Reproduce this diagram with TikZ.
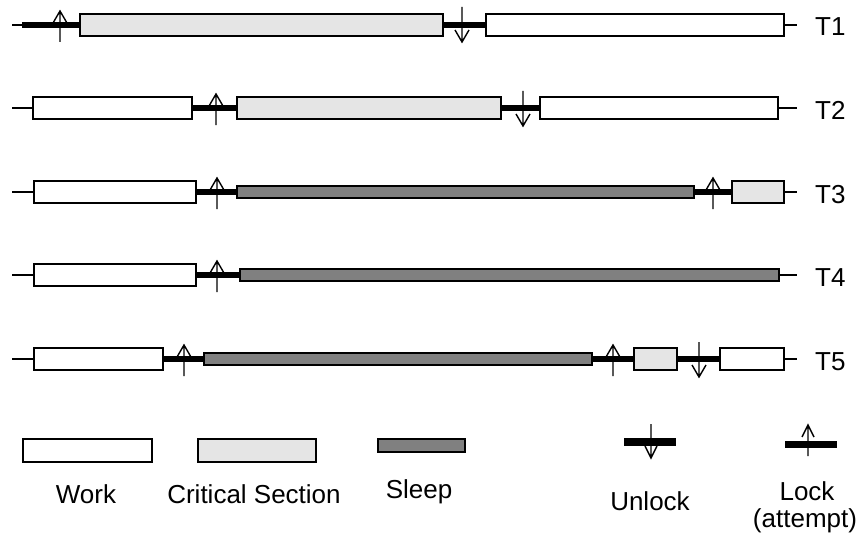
\documentclass[tikz,border=0pt]{standalone}
\usepackage{fontspec}
\setmainfont{Liberation Sans}
\usepackage{tikz}

\begin{document}
\begin{tikzpicture}[x=1pt,y=-1pt,
  work/.style={draw,fill=white,line width=1.4pt},
  crit/.style={draw,fill=gray!20,line width=1.4pt},
  sleep/.style={draw,fill=gray,line width=1.4pt},
  thin/.style={line width=2pt},
  held/.style={line width=5.5pt},
  bar/.style={line width=7.5pt},
  arr/.style={line width=1.4pt},
  lbl/.style={inner sep=0pt,font=\fontsize{26}{31}\selectfont}]
\useasboundingbox (0,0) rectangle (860,535);
\draw [thin] (12,25) -- (797,25);
\draw [held] (22,25) -- (80,25);
\draw [held] (443,25) -- (486,25);
\draw [crit] (80,14) rectangle (443,36);
\draw [work] (486,14) rectangle (784,36);
\draw [arr] (60,42) -- ++(0,-31) ++(-7,12) -- ++(7,-12) -- ++(7,12);
\draw [arr] (462,7) -- ++(0,35) ++(-7,-12) -- ++(7,12) -- ++(7,-12);
\node [lbl,anchor=base west] (t1) at (815,36) {T1};
\draw [thin] (12,108) -- (797,108);
\draw [held] (192,108) -- (237,108);
\draw [held] (501,108) -- (540,108);
\draw [work] (33,97) rectangle (192,119);
\draw [crit] (237,97) rectangle (501,119);
\draw [work] (540,97) rectangle (778,119);
\draw [arr] (216,125) -- ++(0,-31) ++(-7,12) -- ++(7,-12) -- ++(7,12);
\draw [arr] (523,91) -- ++(0,35) ++(-7,-12) -- ++(7,12) -- ++(7,-12);
\node [lbl,anchor=base west] (t2) at (815,119) {T2};
\draw [thin] (12,192) -- (797,192);
\draw [held] (196,192) -- (237,192);
\draw [held] (694,192) -- (732,192);
\draw [work] (34,181) rectangle (196,203);
\draw [sleep] (237,186) rectangle (694,198);
\draw [crit] (732,181) rectangle (784,203);
\draw [arr] (217,209) -- ++(0,-31) ++(-7,12) -- ++(7,-12) -- ++(7,12);
\draw [arr] (713,209) -- ++(0,-31) ++(-7,12) -- ++(7,-12) -- ++(7,12);
\node [lbl,anchor=base west] (t3) at (815,203) {T3};
\draw [thin] (12,275) -- (797,275);
\draw [held] (196,275) -- (240,275);
\draw [work] (34,264) rectangle (196,286);
\draw [sleep] (240,269) rectangle (779,281);
\draw [arr] (217,292) -- ++(0,-31) ++(-7,12) -- ++(7,-12) -- ++(7,12);
\node [lbl,anchor=base west] (t4) at (815,286) {T4};
\draw [thin] (12,359) -- (797,359);
\draw [held] (163,359) -- (204,359);
\draw [held] (592,359) -- (634,359);
\draw [held] (677,359) -- (720,359);
\draw [work] (34,348) rectangle (163,370);
\draw [sleep] (204,353) rectangle (592,365);
\draw [crit] (634,348) rectangle (677,370);
\draw [work] (720,348) rectangle (784,370);
\draw [arr] (184,376) -- ++(0,-31) ++(-7,12) -- ++(7,-12) -- ++(7,12);
\draw [arr] (613,376) -- ++(0,-31) ++(-7,12) -- ++(7,-12) -- ++(7,12);
\draw [arr] (699,342) -- ++(0,35) ++(-7,-12) -- ++(7,12) -- ++(7,-12);
\node [lbl,anchor=base west] (t5) at (815,370) {T5};
\draw [work] (23,439) rectangle (152,462);
\draw [crit] (198,439) rectangle (316,462);
\draw [sleep] (378,439) rectangle (465,452);
\draw [bar] (624,442) -- (676,442);
\draw [arr] (651,424) -- ++(0,34) ++(-6,-12) -- ++(6,12) -- ++(6,-12);
\draw [bar] (785,444.5) -- (837,444.5);
\draw [arr] (808,456) -- ++(0,-31) ++(-6,12) -- ++(6,-12) -- ++(6,12);
\node [lbl,anchor=base] (lwork) at (86,503) {Work};
\node [lbl,anchor=base] (lcrit) at (254,503) {Critical Section};
\node [lbl,anchor=base] (lsleep) at (419,498) {Sleep};
\node [lbl,anchor=base] (lunlock) at (650,510) {Unlock};
\node [lbl,anchor=base] (llock) at (807,500) {Lock};
\node [lbl,anchor=base] (lattempt) at (805,527) {(attempt)};
\end{tikzpicture}
\end{document}
